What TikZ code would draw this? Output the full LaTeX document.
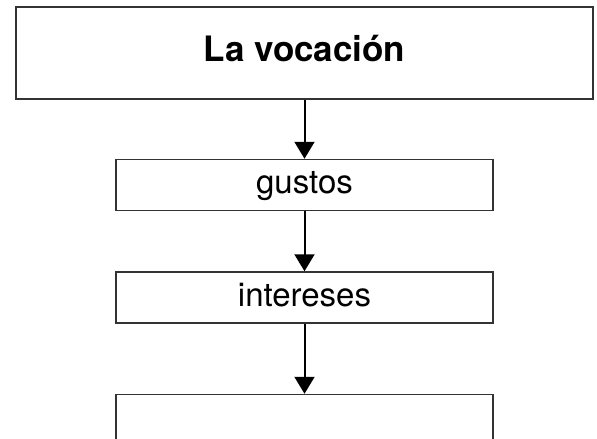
\documentclass[tikz,border=0pt]{standalone}
\usepackage{fontspec}
\setmainfont{TeX Gyre Heros}
\usetikzlibrary{positioning,arrows.meta}

\begin{document}
\begin{tikzpicture}[x=1pt, y=-1pt,
   every node/.style={draw=black!80, line width=1.5pt, font=\fontsize{33}{36}\selectfont, text height=24pt, text depth=7pt},
   caja/.style={minimum width=377pt, minimum height=51pt},
   flecha/.style={line width=2pt, -{Triangle[width=20pt,length=17pt]}}]

\useasboundingbox (0,0) rectangle (597,439);
\clip (0,0) rectangle (597,439);

\node[minimum width=577pt, minimum height=92pt, font=\fontsize{35}{38}\selectfont\bfseries] (vocacion) at (304.5,53) {La vocación};
\node[caja, below=59pt of vocacion] (gustos) {gustos};
\node[caja, below=60pt of gustos] (intereses) {intereses};
\node[caja, minimum height=90pt, below=70pt of intereses] (siguiente) {};

\draw[flecha] (vocacion) -- (gustos);
\draw[flecha] (gustos) -- (intereses);
\draw[flecha] (intereses) -- (siguiente);
\end{tikzpicture}
\end{document}
